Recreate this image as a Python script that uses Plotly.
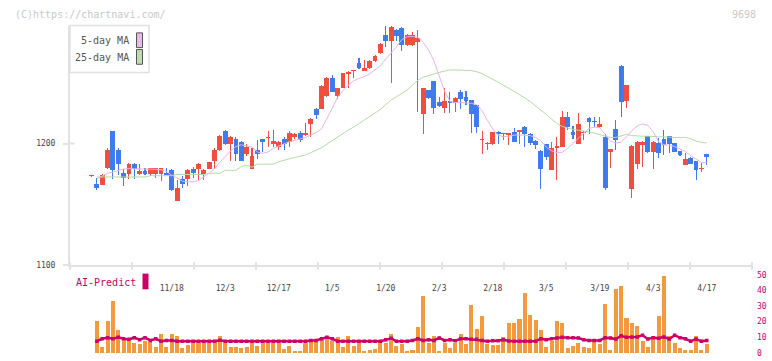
import plotly.graph_objects as go

W, H = 772, 361

dates = [
    "10/27", "10/28", "10/29", "10/30", "10/31", "11/4", "11/5", "11/6", "11/7", "11/10",
    "11/11", "11/12", "11/13", "11/14", "11/17", "11/18", "11/19", "11/20", "11/21", "11/25",
    "11/26", "11/27", "11/28", "12/1", "12/2", "12/3", "12/4", "12/5", "12/8", "12/9",
    "12/10", "12/11", "12/12", "12/15", "12/16", "12/17", "12/18", "12/19", "12/22", "12/23",
    "12/24", "12/25", "12/26", "12/29", "12/30", "1/5", "1/6", "1/7", "1/8", "1/9",
    "1/13", "1/14", "1/15", "1/16", "1/19", "1/20", "1/21", "1/22", "1/23", "1/26",
    "1/27", "1/28", "1/29", "1/30", "2/2", "2/3", "2/4", "2/5", "2/6", "2/9",
    "2/10", "2/12", "2/13", "2/16", "2/17", "2/18", "2/19", "2/20", "2/24", "2/25",
    "2/26", "2/27", "3/2", "3/3", "3/4", "3/5", "3/6", "3/9", "3/10", "3/11",
    "3/12", "3/13", "3/16", "3/17", "3/18", "3/19", "3/23", "3/24", "3/25", "3/26",
    "3/27", "3/30", "3/31", "4/1", "4/2", "4/3", "4/6", "4/7", "4/8", "4/9",
    "4/10", "4/13", "4/14", "4/15", "4/16", "4/17",
]

opens = [
    1173, 1167, 1166, 1180, 1210, 1195, 1176, 1175, 1183, 1175,
    1177, 1175, 1175, 1175, 1176, 1178, 1153, 1171, 1171, 1179,
    1179, 1175, 1179, 1186, 1195, 1210, 1200, 1204, 1201, 1191,
    1179, 1195, 1203.5, 1204.5, 1199.5, 1197, 1204, 1201, 1205, 1209,
    1207, 1216, 1228.5, 1228, 1239, 1254, 1239, 1246, 1257, 1259.5,
    1266.5, 1260, 1262, 1267.5, 1274.5, 1289, 1284, 1293.5, 1295, 1281,
    1281, 1283.5, 1224, 1244, 1251, 1234, 1229.5, 1235, 1233.5, 1242,
    1238, 1235.7, 1232, 1203, 1199.8, 1199.4, 1209.4, 1207.5, 1207, 1209.4,
    1209.4, 1213.7, 1208, 1202, 1194, 1199.4, 1178, 1196.2, 1197.3, 1221.5,
    1209.7, 1200, 1208.3, 1221, 1218.8, 1213.4, 1205.3, 1193.2, 1212.3, 1263.4,
    1234.9, 1162.6, 1183.3, 1199, 1206, 1193.2, 1200.2, 1203.5, 1206, 1200.2,
    1193.5, 1182.7, 1188, 1185.2, 1178.7, 1191.4,
]
highs = [
    1173.5, 1172, 1175, 1196, 1210, 1196, 1179, 1184, 1184, 1183,
    1180, 1180, 1180, 1180, 1180, 1179, 1170, 1173, 1179, 1181,
    1184, 1179, 1185, 1196, 1207, 1211, 1206, 1205, 1202, 1200,
    1196, 1203, 1204, 1210, 1211, 1202, 1205, 1210, 1209, 1210,
    1217, 1221, 1229, 1248, 1255, 1256.5, 1246, 1258, 1259.5, 1260.5,
    1270.5, 1269, 1269, 1272.5, 1282.5, 1297, 1296.5, 1294, 1296, 1290,
    1292, 1293, 1246, 1244, 1251, 1238.5, 1245.5, 1242, 1238.5, 1244,
    1243, 1236, 1232, 1210, 1201, 1209.5, 1210, 1208.5, 1208.5, 1213,
    1211, 1214, 1209, 1202.5, 1194.5, 1200, 1201.5, 1205.3, 1227, 1226,
    1214, 1225, 1210, 1221.5, 1222, 1222, 1208, 1195.5, 1219, 1264.5,
    1248, 1199, 1202, 1202, 1206.5, 1202, 1204.3, 1210.7, 1206.5, 1200.5,
    1194, 1192, 1188.5, 1185.5, 1184, 1191.5,
]
lows = [
    1172.5, 1162, 1166, 1179, 1171, 1174, 1165, 1171, 1171, 1174,
    1174, 1173, 1172, 1169, 1174, 1161, 1153, 1163, 1165, 1172,
    1170, 1170, 1179, 1179, 1194, 1199, 1186, 1186, 1186, 1190,
    1179, 1187, 1193, 1197, 1197, 1195, 1195, 1197, 1204, 1201,
    1206, 1205, 1220, 1228, 1238, 1242, 1237, 1246, 1245.5, 1254,
    1261, 1259.5, 1261, 1267, 1274, 1279.5, 1250, 1284.5, 1276, 1280,
    1280, 1225.5, 1207.5, 1237, 1224, 1230, 1225, 1225, 1226, 1228,
    1231.7, 1209, 1209, 1191, 1195, 1199, 1200, 1202.7, 1199, 1201,
    1200, 1197, 1199, 1195.4, 1162.6, 1186.8, 1178, 1170, 1197, 1211.5,
    1203.5, 1200, 1203, 1207.5, 1213.4, 1213, 1161.8, 1180, 1194.8, 1221.5,
    1229.5, 1154.8, 1179.3, 1180.6, 1192, 1179.3, 1188, 1190.6, 1192, 1193,
    1190, 1182.7, 1183, 1170, 1176.6, 1182,
]
closes = [
    1173.5, 1163, 1174, 1195, 1178, 1183, 1172, 1183, 1179, 1177,
    1175, 1180, 1180, 1180, 1174, 1162, 1163, 1167, 1178, 1176,
    1183, 1178.5, 1185, 1195, 1206, 1200, 1205, 1191, 1186, 1197,
    1190, 1191, 1201, 1205.5, 1202, 1201, 1200, 1209, 1208, 1203,
    1209, 1220, 1223.5, 1247, 1254, 1242, 1245.5, 1258, 1259, 1260.5,
    1262, 1262.5, 1268, 1272, 1282, 1284, 1296, 1288.7, 1281, 1289,
    1289, 1287, 1245.5, 1237.6, 1229.5, 1231, 1235, 1233.5, 1237.6, 1236.5,
    1235, 1224.4, 1213.4, 1204, 1200.6, 1209.4, 1208, 1208.3, 1208.3, 1201.3,
    1210.7, 1207.5, 1200.2, 1199, 1178.7, 1189.2, 1196, 1198, 1221.5, 1213.4,
    1207, 1216.4, 1209.7, 1217.4, 1217.4, 1216.4, 1163.1, 1195.4, 1202.9, 1234.4,
    1247.8, 1198, 1201.3, 1201.6, 1193.2, 1201.3, 1192.2, 1199, 1199.4, 1193.2,
    1190.6, 1187.3, 1183.3, 1178.5, 1180.1, 1189.2,
]

ma5 = [
    None, 1171, 1173.5, 1175.5, 1176.5, 1178, 1179, 1179.3, 1179.3, 1179.3,
    1179.3, 1179, 1178.8, 1178.5, 1177, 1174, 1171.5, 1169, 1168.5, 1168.5,
    1169.5, 1172.5, 1175.5, 1179, 1184.7, 1189.5, 1194, 1197.5, 1198.9, 1198,
    1197, 1193, 1192, 1193, 1196, 1198, 1200, 1201.5, 1202.5, 1203.5,
    1205, 1207, 1209, 1212, 1220, 1229, 1238, 1243.5, 1248, 1251.5,
    1253.5, 1255, 1257.3, 1260.5, 1264, 1269.5, 1274.5, 1279.5, 1285.5, 1287.8,
    1288, 1287.5, 1283, 1277, 1268, 1256, 1243, 1234.5, 1233.7, 1233.8,
    1233.7, 1233, 1232, 1227, 1219, 1212, 1207, 1205.5, 1206, 1206.9,
    1207, 1207, 1206.5, 1205, 1202.3, 1197, 1194, 1192.5, 1192.7, 1196,
    1200, 1204, 1208.5, 1212.5, 1213.5, 1213, 1207.5, 1202, 1200.5, 1201,
    1205.5, 1210.5, 1214.5, 1216, 1215, 1209.5, 1201.5, 1199, 1198.5, 1197.5,
    1195.5, 1193.5, 1190, 1187, 1184.5, 1184,
]
ma25 = [
    None, 1172.5, 1172.5, 1172.5, 1172.5, 1172.5, 1172.5, 1172.5, 1172.5, 1172.5,
    1172.5, 1173.5, 1173.5, 1173.5, 1173.5, 1173.5, 1174.5, 1174.5, 1174.5, 1174.5,
    1174.5, 1174.5, 1175.5, 1175.5, 1175.5, 1178, 1178, 1178, 1181, 1182,
    1180.5, 1183, 1183, 1183, 1183, 1185, 1186.5, 1187.5, 1188.5, 1189.2,
    1190.5, 1192.5, 1194.5, 1196.5, 1199.5, 1202.5, 1205, 1208, 1211, 1213.5,
    1216.5, 1219.5, 1222.5, 1225.5, 1228, 1232, 1235.7, 1238.4, 1241, 1244,
    1248, 1252, 1254.5, 1256, 1257.5, 1258.5, 1259.5, 1260.5, 1260.5, 1260.5,
    1260, 1260, 1259, 1257.5, 1255, 1253, 1250.5, 1248, 1245.5, 1243,
    1240, 1237.5, 1234.5, 1231, 1228, 1224, 1220, 1216.5, 1214, 1212.5,
    1211.5, 1211, 1210.5, 1209.5, 1208.5, 1207.5, 1206, 1205, 1205, 1206,
    1207.5, 1206.5, 1206, 1206, 1206, 1205.5, 1205.5, 1205.5, 1205, 1205,
    1205, 1205, 1204, 1202, 1201, 1200.5,
]

volume = [
    None, 20.1, 3.8, 20.1, 33.3, 14.5, 8.6, 7.5, 6.3, 5.5,
    7.5, 6.9, 3.8, 12, 3.8, 12, 10.7, 3.1, 5, 6,
    6, 6, 6, 8.2, 10.7, 6, 3.8, 3.8, 3.1, 3.8,
    6.5, 4.4, 6, 6, 6, 6, 2.7, 4.4, 1.2, 1.2,
    6, 9, 9, 9.6, 9.6, 7.5, 10.3, 3.4, 10.7, 4.4,
    6, 1.2, 1.9, 2.7, 8.2, 6, 12, 4.4, 5.5, 1.2,
    1.9, 16.4, 36.5, 6, 10.7, 1.2, 6.5, 3.1, 6, 12,
    5.7, 30.8, 15.1, 23.3, 5.9, 5, 5, 10, 18.9, 18.9,
    22, 38.4, 24.5, 20.8, 14.5, 3.8, 7.5, 20.1, 18.9, 3.1,
    4.4, 6, 3.8, 3.1, 8.8, 5.7, 31, 1.9, 41, 42.8,
    22.6, 18.9, 17, 7.5, 3.8, 10.7, 23.3, 49, 10.7, 6.3,
    3.1, 1.9, 1.9, 10.7, 1.9, 5.7,
]
ai_predict = [
    None, 7.4, 9, 9.7, 9, 10, 9, 8.6, 9.7, 8.4,
    9.7, 7.9, 9, 7.4, 7.9, 7.9, 7.4, 7.4, 7.4, 7.4,
    7.4, 7.4, 7.4, 7.4, 8.0, 7.4, 7.4, 7.4, 7.4, 7.4,
    7.4, 7.4, 7.4, 7.4, 7.4, 7.4, 7.4, 7.4, 7.4, 7.4,
    7.4, 7.9, 7.9, 9, 9.9, 9, 7.4, 7.4, 7.4, 7.4,
    7.4, 7.4, 7.4, 7.4, 7.4, 8.3, 9.3, 7.4, 7.4, 7.4,
    7.9, 9, 7.9, 8.4, 7.9, 9.5, 7.9, 8.4, 7.7, 9,
    9, 8.6, 8.6, 7.9, 7.4, 7.7, 7.7, 8.4, 7.6, 7.4,
    7.4, 7.4, 7.4, 7.4, 9, 8.4, 9, 9.5, 9.9, 9.7,
    9.7, 9.5, 8.4, 7.9, 7.9, 7.9, 9.7, 9.5, 8.8, 10.9,
    9.9, 10.2, 10.2, 11.2, 8.8, 9.7, 9.3, 10.2, 8.8, 11.2,
    9.7, 9, 7.4, 8.8, 7.4, 7.9,
]

tick_dates = ["11/18", "12/3", "12/17", "1/5", "1/20", "2/3", "2/18", "3/5", "3/19", "4/3", "4/17"]
price_ticks = [1100, 1200]
ai_ticks = [0, 10, 20, 30, 40, 50]

RED = "#F04E3E"
BLUE = "#3D7BEF"
PINK = "#E8B2E8"
GREEN = "#B3DAA6"
ORANGE = "#F39A3E"
CRIMSON = "#CC0066"
AXIS = "#E2E2E2"
FONT = "DejaVu Sans Mono"


def px(x):
    return x / W


def py(y):
    return 1 - y / H


# pixel geometry
X0, X1 = 70, 752
FIRST_X, PITCH = 91.5, 5.35
xr = [(X0 - FIRST_X) / PITCH, (X1 - FIRST_X) / PITCH]

colors = [RED if c >= o else BLUE for o, c in zip(opens, closes)]
body_base = [min(o, c) for o, c in zip(opens, closes)]
body_h = [max(abs(c - o), 0.9) for o, c in zip(opens, closes)]
wick_h = [h - l for h, l in zip(highs, lows)]

fig = go.Figure()

fig.add_trace(go.Scatter(x=dates, y=ma25, mode="lines", line=dict(color=GREEN, width=1),
                         xaxis="x", yaxis="y", hoverinfo="skip"))
fig.add_trace(go.Scatter(x=dates, y=ma5, mode="lines", line=dict(color=PINK, width=1),
                         xaxis="x", yaxis="y", hoverinfo="skip"))
fig.add_trace(go.Bar(x=dates, y=wick_h, base=lows, width=0.2, marker=dict(color=colors, line=dict(width=0)),
                     xaxis="x", yaxis="y"))
fig.add_trace(go.Bar(x=dates, y=body_h, base=body_base, width=0.9, marker=dict(color=colors, line=dict(width=0)),
                     xaxis="x", yaxis="y"))

fig.add_trace(go.Bar(x=dates, y=volume, width=0.75, marker=dict(color=ORANGE, line=dict(width=0)),
                     xaxis="x2", yaxis="y2"))
fig.add_trace(go.Scatter(x=dates, y=ai_predict, mode="lines+markers",
                         line=dict(color=CRIMSON, width=2.5),
                         marker=dict(symbol="square", size=3.5, color=CRIMSON),
                         xaxis="x2", yaxis="y2"))

shapes = []
# x-axis tick marks (evenly spaced)
for k in range(12):
    xx = X0 + 62 * k
    shapes.append(dict(type="line", xref="paper", yref="paper", x0=px(xx), x1=px(xx),
                       y0=py(265.5), y1=py(273), line=dict(color=AXIS, width=2)))
# inner part of the 1200 tick
shapes.append(dict(type="line", xref="paper", yref="y", x0=px(70), x1=px(74.5), y0=1200, y1=1200,
                   line=dict(color=AXIS, width=2)))
# legend box
shapes.append(dict(type="rect", xref="paper", yref="paper", x0=px(70), x1=px(149), y0=py(72), y1=py(24),
                   fillcolor="white", line=dict(color="#E0E0E0", width=1.5), layer="above"))
shapes.append(dict(type="rect", xref="paper", yref="paper", x0=px(136.5), x1=px(142.5), y0=py(46.5), y1=py(31.5),
                   fillcolor="#EBB8EB", line=dict(color="#555555", width=1), layer="above"))
shapes.append(dict(type="rect", xref="paper", yref="paper", x0=px(136.5), x1=px(142.5), y0=py(63.5), y1=py(48.5),
                   fillcolor="#BCDDB0", line=dict(color="#555555", width=1), layer="above"))
# AI-Predict swatch
shapes.append(dict(type="rect", xref="paper", yref="paper", x0=px(142.5), x1=px(148.5), y0=py(293), y1=py(277),
                   fillcolor=CRIMSON, line=dict(width=0), layer="above"))

annotations = [
    dict(text="(C)https://chartnavi.com/", x=px(13), y=py(12.5), xref="paper", yref="paper",
         xanchor="left", yanchor="middle", showarrow=False, font=dict(family=FONT, size=10, color="#C8C8C8")),
    dict(text="9698", x=px(758), y=py(12.5), xref="paper", yref="paper",
         xanchor="right", yanchor="middle", showarrow=False, font=dict(family=FONT, size=10, color="#C8C8C8")),
    dict(text="5-day MA", x=px(131), y=py(39.5), xref="paper", yref="paper",
         xanchor="right", yanchor="middle", showarrow=False, font=dict(family=FONT, size=10, color="#555555")),
    dict(text="25-day MA", x=px(131), y=py(56.5), xref="paper", yref="paper",
         xanchor="right", yanchor="middle", showarrow=False, font=dict(family=FONT, size=10, color="#555555")),
    dict(text="AI-Predict", x=px(74), y=py(286), xref="paper", yref="paper",
         xanchor="left", yanchor="middle", showarrow=False, font=dict(family=FONT, size=10, color=CRIMSON)),
]

main_dom = [py(268.3), py(24)]
yr_top = 1100 + (268.3 - 24) / 1.24
vol_dom = [0, py(276)]
v_lo = -(361 - 357.7) / 1.588
v_hi = (357.7 - 276) / 1.588

fig.update_layout(
    width=W, height=H, autosize=False,
    margin=dict(l=0, r=0, t=0, b=0),
    paper_bgcolor="white", plot_bgcolor="white",
    showlegend=False, barmode="overlay", bargap=0,
    font=dict(family=FONT),
    xaxis=dict(domain=[px(X0), px(X1)], range=xr, type="category", categoryorder="array", categoryarray=dates,
               tickvals=tick_dates, ticktext=tick_dates, ticks="", showgrid=False, zeroline=False,
               showline=True, linecolor=AXIS, linewidth=2, anchor="y",
               tickfont=dict(family=FONT, size=8, color="#444444"), ticklabelstandoff=14),
    yaxis=dict(domain=main_dom, range=[1100, yr_top], tickvals=price_ticks, ticks="outside", ticklen=5,
               tickcolor=AXIS, tickwidth=2, showgrid=False, zeroline=False, showline=True,
               linecolor=AXIS, linewidth=2, anchor="x",
               tickfont=dict(family=FONT, size=8, color="#444444"), ticklabelstandoff=6),
    xaxis2=dict(domain=[px(X0), px(X1)], range=xr, type="category", categoryorder="array", categoryarray=dates,
                visible=False, anchor="y2"),
    yaxis2=dict(domain=vol_dom, range=[v_lo, v_hi], side="right", tickvals=ai_ticks, ticks="",
                showgrid=False, zeroline=False, showline=False, anchor="x2",
                tickfont=dict(family=FONT, size=8, color=CRIMSON), ticklabelstandoff=4),
    shapes=shapes,
    annotations=annotations,
)

fig.write_html("out.html", config={"displayModeBar": False, "staticPlot": True},
               post_script="document.body.style.margin='0';document.body.style.overflow='hidden';")
